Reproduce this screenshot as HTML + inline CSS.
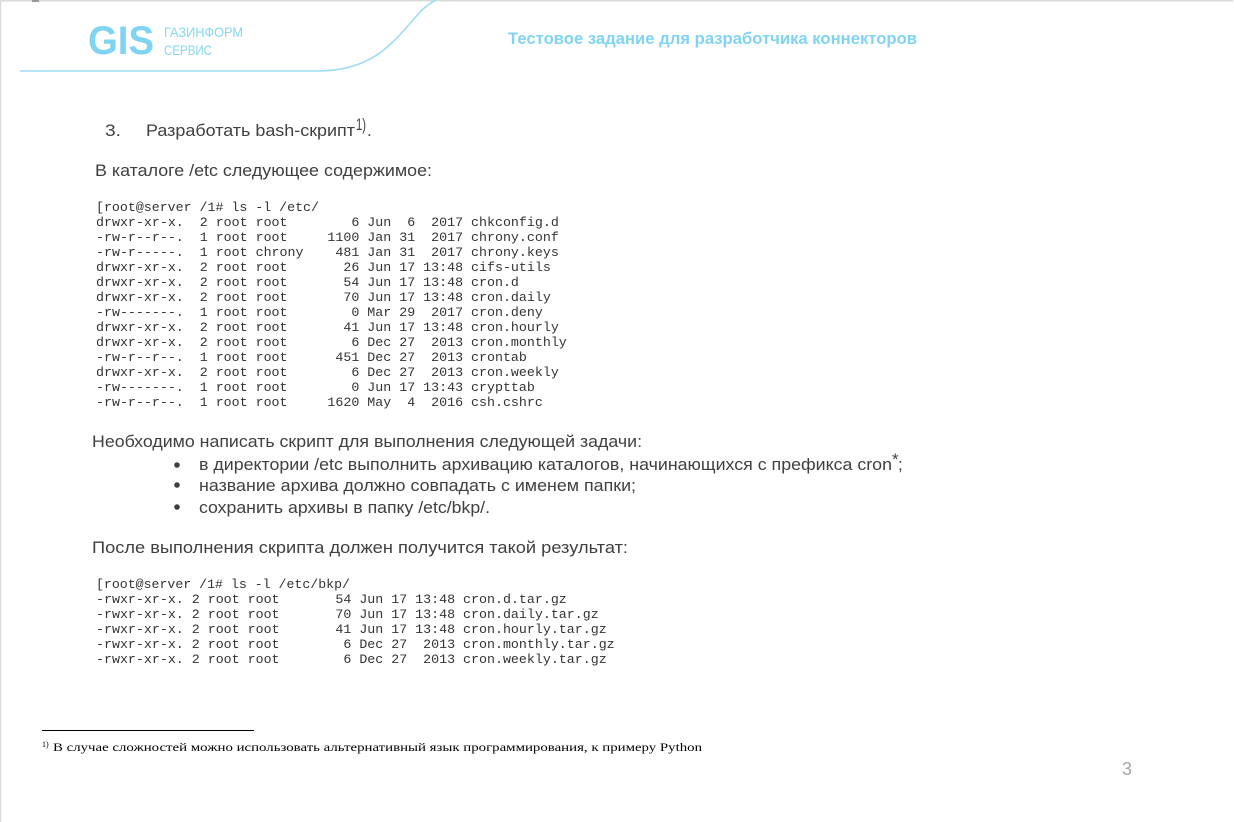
<!DOCTYPE html>
<html><head><meta charset="utf-8"><style>
html,body{margin:0;padding:0;background:#fff;width:1234px;height:822px;overflow:hidden}
svg{display:block}
.m{font-family:"Liberation Mono",monospace;font-size:13.3px;fill:#333;white-space:pre}
.t{font-family:"Liberation Sans","Noto Sans CJK SC",sans-serif;font-size:17px;fill:#404040}
</style></head><body>
<svg width="1234" height="822" viewBox="0 0 1234 822" xmlns="http://www.w3.org/2000/svg">
<rect x="0" y="0" width="1234" height="822" fill="#fff"/>
<line x1="0" y1="0.5" x2="1233" y2="0.5" stroke="#d9d9d9" stroke-width="2"/>
<line x1="0.5" y1="0" x2="0.5" y2="822" stroke="#d9d9d9" stroke-width="1.5"/>
<rect x="32" y="0" width="7" height="2" fill="#999"/>
<path d="M20 71 L318 71 C375 71 395 40 420 12 C428 4 434 1 436 0" fill="none" stroke="#9edcf3" stroke-width="1.6"/>
<text x="88" y="54" font-family="Liberation Sans,sans-serif" font-weight="bold" font-size="40" fill="#7fd4f3" textLength="66" lengthAdjust="spacingAndGlyphs">GIS</text>
<text x="164" y="37" font-family="Liberation Sans,sans-serif" font-size="14" fill="#86d6f3" textLength="79" lengthAdjust="spacingAndGlyphs">ГАЗИНФОРМ</text>
<text x="164" y="55" font-family="Liberation Sans,sans-serif" font-size="14" fill="#86d6f3" textLength="48" lengthAdjust="spacingAndGlyphs">СЕРВИС</text>
<text x="508" y="44" font-family="Liberation Sans,sans-serif" font-weight="bold" font-size="17" fill="#7fd4f3" textLength="409" lengthAdjust="spacingAndGlyphs">Тестовое задание для разработчика коннекторов</text>

<text class="t" x="105" y="136" textLength="16" lengthAdjust="spacingAndGlyphs">3.</text>
<text class="t" x="146" y="136" textLength="209" lengthAdjust="spacingAndGlyphs">Разработать bash-скрипт</text>
<text class="t" x="356" y="130" font-size="9" textLength="10" lengthAdjust="spacingAndGlyphs">1)</text>
<text class="t" x="367" y="136">.</text>
<text class="t" x="95" y="176" textLength="337" lengthAdjust="spacingAndGlyphs">В каталоге /etc следующее содержимое:</text>

<text class="m" x="96" y="211" textLength="223" lengthAdjust="spacingAndGlyphs">[root@server /1# ls -l /etc/</text>
<text class="m" x="96" y="226">drwxr-xr-x.  2 root root        6 Jun  6  2017 chkconfig.d</text>
<text class="m" x="96" y="241">-rw-r--r--.  1 root root     1100 Jan 31  2017 chrony.conf</text>
<text class="m" x="96" y="256">-rw-r-----.  1 root chrony    481 Jan 31  2017 chrony.keys</text>
<text class="m" x="96" y="271">drwxr-xr-x.  2 root root       26 Jun 17 13:48 cifs-utils</text>
<text class="m" x="96" y="286">drwxr-xr-x.  2 root root       54 Jun 17 13:48 cron.d</text>
<text class="m" x="96" y="301">drwxr-xr-x.  2 root root       70 Jun 17 13:48 cron.daily</text>
<text class="m" x="96" y="316">-rw-------.  1 root root        0 Mar 29  2017 cron.deny</text>
<text class="m" x="96" y="331">drwxr-xr-x.  2 root root       41 Jun 17 13:48 cron.hourly</text>
<text class="m" x="96" y="346">drwxr-xr-x.  2 root root        6 Dec 27  2013 cron.monthly</text>
<text class="m" x="96" y="361">-rw-r--r--.  1 root root      451 Dec 27  2013 crontab</text>
<text class="m" x="96" y="376">drwxr-xr-x.  2 root root        6 Dec 27  2013 cron.weekly</text>
<text class="m" x="96" y="391">-rw-------.  1 root root        0 Jun 17 13:43 crypttab</text>
<text class="m" x="96" y="406">-rw-r--r--.  1 root root     1620 May  4  2016 csh.cshrc</text>

<text class="t" x="92" y="447" textLength="550" lengthAdjust="spacingAndGlyphs">Необходимо написать скрипт для выполнения следующей задачи:</text>
<circle cx="177" cy="465" r="2.8" fill="#404040"/>
<circle cx="177" cy="485" r="2.8" fill="#404040"/>
<circle cx="177" cy="507" r="2.8" fill="#404040"/>
<text class="t" x="199" y="470" textLength="693" lengthAdjust="spacingAndGlyphs">в директории /etc выполнить архивацию каталогов, начинающихся с префикса cron</text>
<text class="t" x="892" y="465" font-size="9">*</text>
<text class="t" x="898" y="470">;</text>
<text class="t" x="199" y="491" textLength="437" lengthAdjust="spacingAndGlyphs">название архива должно совпадать с именем папки;</text>
<text class="t" x="199" y="513" textLength="291" lengthAdjust="spacingAndGlyphs">сохранить архивы в папку /etc/bkp/.</text>
<text class="t" x="92" y="553" textLength="536" lengthAdjust="spacingAndGlyphs">После выполнения скрипта должен получится такой результат:</text>

<text class="m" x="96" y="588" textLength="254" lengthAdjust="spacingAndGlyphs">[root@server /1# ls -l /etc/bkp/</text>
<text class="m" x="96" y="603">-rwxr-xr-x. 2 root root       54 Jun 17 13:48 cron.d.tar.gz</text>
<text class="m" x="96" y="618">-rwxr-xr-x. 2 root root       70 Jun 17 13:48 cron.daily.tar.gz</text>
<text class="m" x="96" y="633">-rwxr-xr-x. 2 root root       41 Jun 17 13:48 cron.hourly.tar.gz</text>
<text class="m" x="96" y="648">-rwxr-xr-x. 2 root root        6 Dec 27  2013 cron.monthly.tar.gz</text>
<text class="m" x="96" y="663">-rwxr-xr-x. 2 root root        6 Dec 27  2013 cron.weekly.tar.gz</text>

<line x1="42" y1="730.5" x2="254" y2="730.5" stroke="#000" stroke-width="1"/>
<text x="42" y="747" font-family="Liberation Serif,serif" font-size="8" fill="#000">1)</text>
<text x="53" y="751" font-family="Liberation Serif,serif" font-size="12" fill="#000" textLength="649" lengthAdjust="spacingAndGlyphs">В случае сложностей можно использовать альтернативный язык программирования, к примеру Python</text>
<text x="1122" y="775" font-family="Liberation Sans,sans-serif" font-size="18" fill="#a6a6a6">3</text>
</svg>
</body></html>
